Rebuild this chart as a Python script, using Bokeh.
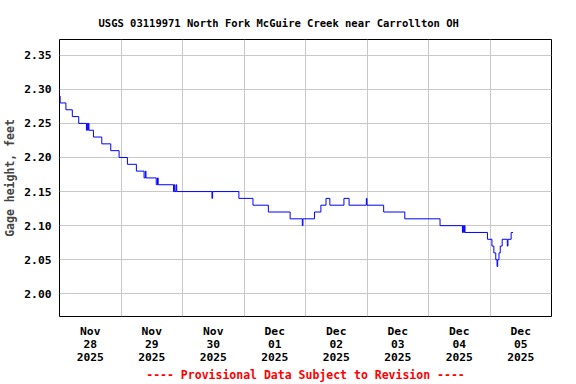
import pandas as pd
from bokeh.plotting import figure
from bokeh.models import Range1d, FixedTicker, NumeralTickFormatter
from bokeh.embed import file_html
from bokeh.resources import INLINE

# ---- data (15-minute gage height readings, step changes) ----
times = [
    "2025-11-28 00:00", "2025-11-28 00:15", "2025-11-28 02:30", "2025-11-28 05:00",
    "2025-11-28 07:30", "2025-11-28 10:30", "2025-11-28 10:45", "2025-11-28 11:00",
    "2025-11-28 11:15", "2025-11-28 11:30", "2025-11-28 13:15", "2025-11-28 16:30",
    "2025-11-28 20:00", "2025-11-28 23:15", "2025-11-29 02:30", "2025-11-29 06:00",
    "2025-11-29 09:00", "2025-11-29 09:30", "2025-11-29 09:45", "2025-11-29 13:45",
    "2025-11-29 14:15", "2025-11-29 14:30", "2025-11-29 20:30", "2025-11-29 20:45",
    "2025-11-29 21:00", "2025-11-29 21:30", "2025-11-29 21:45", "2025-11-30 11:30",
    "2025-11-30 11:45", "2025-11-30 22:00", "2025-12-01 03:30", "2025-12-01 09:30",
    "2025-12-01 18:00", "2025-12-01 22:45", "2025-12-01 23:00", "2025-12-02 03:30",
    "2025-12-02 06:00", "2025-12-02 08:00", "2025-12-02 09:30", "2025-12-02 15:00",
    "2025-12-02 17:00", "2025-12-02 23:45", "2025-12-03 00:00", "2025-12-03 06:30",
    "2025-12-03 14:45", "2025-12-04 04:30", "2025-12-04 13:15", "2025-12-04 13:30",
    "2025-12-04 13:45", "2025-12-04 14:00", "2025-12-04 14:15", "2025-12-04 23:00",
    "2025-12-05 00:45", "2025-12-05 01:30", "2025-12-05 02:15", "2025-12-05 02:45",
    "2025-12-05 03:00", "2025-12-05 03:30", "2025-12-05 04:00", "2025-12-05 04:45",
    "2025-12-05 06:45", "2025-12-05 07:00", "2025-12-05 08:15", "2025-12-05 09:00",
]
gage_height = [
    2.29, 2.28, 2.27, 2.26,
    2.25, 2.24, 2.25, 2.24,
    2.25, 2.24, 2.23, 2.22,
    2.21, 2.20, 2.19, 2.18,
    2.17, 2.18, 2.17, 2.16,
    2.17, 2.16, 2.15, 2.16,
    2.15, 2.16, 2.15, 2.14,
    2.15, 2.14, 2.13, 2.12,
    2.11, 2.10, 2.11, 2.12,
    2.13, 2.14, 2.13, 2.14,
    2.13, 2.14, 2.13, 2.12,
    2.11, 2.10, 2.09, 2.10,
    2.09, 2.10, 2.09, 2.08,
    2.07, 2.06, 2.05, 2.04,
    2.05, 2.06, 2.07, 2.08,
    2.07, 2.08, 2.09, 2.09,
]
day_starts = ["2025-11-28", "2025-11-29", "2025-11-30", "2025-12-01",
              "2025-12-02", "2025-12-03", "2025-12-04", "2025-12-05", "2025-12-06"]
day_labels = ["Nov\n28\n2025", "Nov\n29\n2025", "Nov\n30\n2025", "Dec\n01\n2025",
              "Dec\n02\n2025", "Dec\n03\n2025", "Dec\n04\n2025", "Dec\n05\n2025"]
y_ticks = [2.00, 2.05, 2.10, 2.15, 2.20, 2.25, 2.30, 2.35]
title_text = "USGS 03119971 North Fork McGuire Creek near Carrollton OH"
y_label = "Gage height, feet"
x_label = "---- Provisional Data Subject to Revision ----"


def ms(s):
    return int(pd.Timestamp(s).value // 10**6)


t = pd.to_datetime(times)
midnights = [ms(d) for d in day_starts]
noons = [m + 12 * 3600 * 1000 for m in midnights[:-1]]

FONT = "DejaVu Sans Mono"

p = figure(width=576, height=384, x_axis_type="datetime",
           x_range=Range1d(midnights[0], midnights[-1]),
           y_range=Range1d(1.9667, 2.3731),
           output_backend="svg", toolbar_location=None,
           min_border_left=58, min_border_right=25,
           min_border_top=39, min_border_bottom=68)

p.step(t, gage_height, mode="after", line_color="#0000ff", line_width=1)

# title
p.title.text = title_text
p.title.align = "left"
p.title.offset = 39
p.title.text_font = FONT
p.title.text_font_size = "10.5px"
p.title.text_font_style = "bold"
p.title.text_color = "black"
p.title.standoff = 21

# frame
p.outline_line_color = "black"
p.outline_line_width = 1
p.background_fill_color = "white"
p.border_fill_color = "white"

# x axis
p.xaxis.ticker = FixedTicker(ticks=noons)
p.xaxis.major_label_overrides = {n: lab for n, lab in zip(noons, day_labels)}
p.xgrid.ticker = FixedTicker(ticks=midnights[1:-1])
p.xaxis.axis_label = x_label
p.xaxis.axis_label_text_color = "#ff0000"
p.xaxis.axis_label_text_font = FONT
p.xaxis.axis_label_text_font_size = "11.5px"
p.xaxis.axis_label_text_font_style = "bold"
p.xaxis.axis_label_standoff = 1
p.xaxis.major_label_text_line_height = 1.0

# y axis
p.yaxis.ticker = FixedTicker(ticks=y_ticks)
p.yaxis.formatter = NumeralTickFormatter(format="0.00")
p.yaxis.axis_label = y_label
p.yaxis.axis_label_text_font = FONT
p.yaxis.axis_label_text_font_size = "11.5px"
p.yaxis.axis_label_text_font_style = "bold"
p.yaxis.axis_label_standoff = 4

for ax in (p.xaxis, p.yaxis):
    ax.axis_line_color = None
    ax.major_tick_line_color = None
    ax.minor_tick_line_color = None
    ax.major_tick_out = 0
    ax.major_tick_in = 0
    ax.major_label_text_font = FONT
    ax.major_label_text_font_size = "11.3px"
    ax.major_label_text_font_style = "bold"
    ax.major_label_text_color = "black"
    ax.major_label_standoff = 8

for g in (p.xgrid, p.ygrid):
    g.grid_line_color = "#c8c8c8"
    g.grid_line_width = 1
p.ygrid.ticker = FixedTicker(ticks=y_ticks)

open("out.html", "w").write(file_html(p, INLINE))
